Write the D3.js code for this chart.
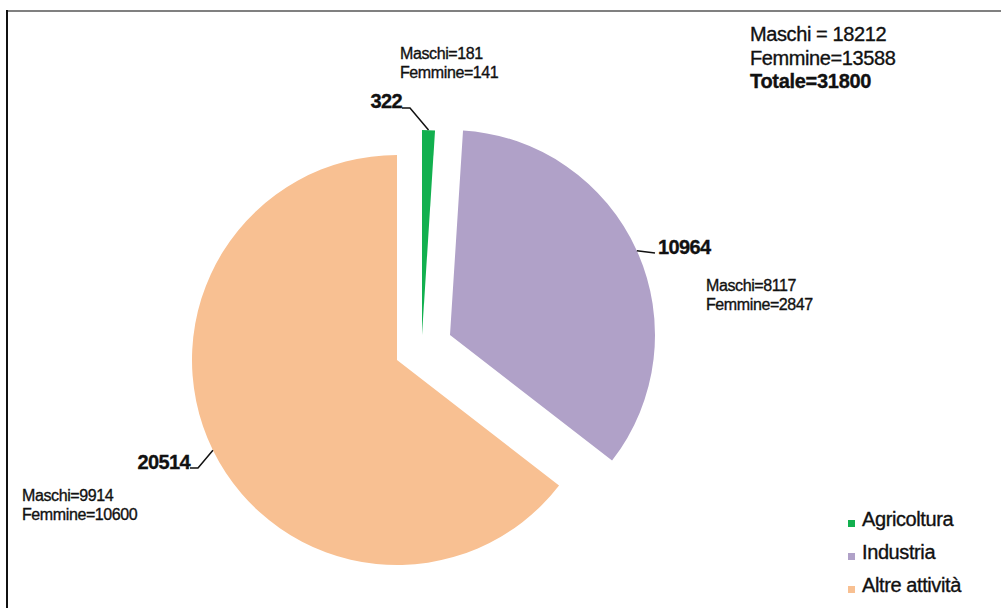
<!DOCTYPE html>
<html>
<head>
<meta charset="utf-8">
<script src="https://cdn.jsdelivr.net/npm/d3@7"></script>
<style>
  body { margin: 0; background: #fff; }
  svg text { font-family: "Liberation Sans", Arial, sans-serif; fill: #111; }
  .heavy { stroke: #111; stroke-width: 0.35px; }
</style>
</head>
<body>
<div id="chart"></div>
<script>
// data
var categories = ["Agricoltura", "Industria", "Altre attività"];
var totals = [322, 10964, 20514];
var maschi = [181, 8117, 9914];
var femmine = [141, 2847, 10600];
var colors = ["#12b04f", "#b0a1c8", "#f8c092"];

var width = 1001;
var height = 608;

var svg = d3.select("#chart")
    .append("svg")
    .attr("width", width)
    .attr("height", height);

// frame lines (top grey, left black)
svg.append("line")
    .attr("x1", 6).attr("y1", 11).attr("x2", width).attr("y2", 11)
    .attr("stroke", "#808080").attr("stroke-width", 2);
svg.append("line")
    .attr("x1", 7).attr("y1", 10).attr("x2", 7).attr("y2", height)
    .attr("stroke", "#111").attr("stroke-width", 2);

var cx = 397, cy = 360, radius = 205;

// how far each slice is pulled out of the pie
var explode = [[25, -25], [53, -25], [0, 0]];

var pie = d3.pie().sort(null).startAngle(0).endAngle(2 * Math.PI);
var arcs = pie(totals);

var path = d3.arc().innerRadius(0).outerRadius(radius);

var g = svg.append("g")
    .attr("transform", "translate(" + cx + "," + cy + ")");

var slice = g.selectAll(".arc")
    .data(arcs)
    .enter().append("g")
    .attr("class", "arc")
    .attr("transform", function(d, i) { return "translate(" + explode[i] + ")"; });

slice.append("path")
    .attr("d", path)
    .attr("fill", function(d, i) { return colors[i]; });

// value labels with leader lines
var labelLayout = [
    { elbow: [410, 108], text: [402, 108], anchor: "end" },
    { elbow: [655, 253], text: [658, 254], anchor: "start" },
    { elbow: [198, 468], text: [190, 469], anchor: "end" }
];

function edgePoint(d, i) {
    var a = (d.startAngle + d.endAngle) / 2;
    return [cx + explode[i][0] + radius * Math.sin(a),
            cy + explode[i][1] - radius * Math.cos(a)];
}

arcs.forEach(function(d, i) {
    var p = edgePoint(d, i);
    var L = labelLayout[i];
    var lineEnd = L.anchor == "end" ? [L.text[0], L.elbow[1]] : [L.text[0] - 3, L.elbow[1]];
    svg.append("path")
        .attr("d", d3.line()([p, L.elbow, lineEnd]))
        .attr("fill", "none")
        .attr("stroke", "#111")
        .attr("stroke-width", 1.5);
    svg.append("text")
        .attr("class", "heavy")
        .attr("x", L.text[0])
        .attr("y", L.text[1])
        .attr("text-anchor", L.anchor)
        .style("font-size", "20px")
        .style("font-weight", "bold")
        .style("letter-spacing", "-0.6px")
        .text(totals[i]);
});

// Maschi / Femmine per sector
var splitPos = [[400, 59], [706, 291], [22, 501]];

splitPos.forEach(function(p, i) {
    var t = svg.append("text")
        .attr("class", "heavy")
        .attr("x", p[0])
        .attr("y", p[1])
        .style("font-size", "16px")
        .style("letter-spacing", "-0.4px");
    t.append("tspan").attr("x", p[0]).text("Maschi=" + maschi[i]);
    t.append("tspan").attr("x", p[0]).attr("dy", 18.7).text("Femmine=" + femmine[i]);
});

// totals box top right
var sumM = d3.sum(maschi), sumF = d3.sum(femmine), sumT = d3.sum(totals);
svg.append("text").attr("class", "heavy").attr("x", 750).attr("y", 40.5)
    .style("font-size", "20px").style("letter-spacing", "-0.4px")
    .text("Maschi = " + sumM);
svg.append("text").attr("class", "heavy").attr("x", 750).attr("y", 65)
    .style("font-size", "20px").style("letter-spacing", "-0.4px")
    .text("Femmine=" + sumF);
svg.append("text").attr("class", "heavy").attr("x", 750).attr("y", 88)
    .style("font-size", "20px").style("font-weight", "bold").style("letter-spacing", "-0.3px")
    .text("Totale=" + sumT);

// legend
var legend = svg.append("g")
    .attr("transform", "translate(848,520)");

var item = legend.selectAll(".leg")
    .data(categories)
    .enter().append("g")
    .attr("class", "leg")
    .attr("transform", function(d, i) { return "translate(0," + (i * 33) + ")"; });

item.append("rect")
    .attr("width", 7)
    .attr("height", 7)
    .attr("fill", function(d, i) { return colors[i]; });

item.append("text")
    .attr("class", "heavy")
    .attr("x", 14)
    .attr("y", 6)
    .style("font-size", "20px")
    .style("letter-spacing", "-0.4px")
    .text(function(d) { return d; });
</script>
</body>
</html>
